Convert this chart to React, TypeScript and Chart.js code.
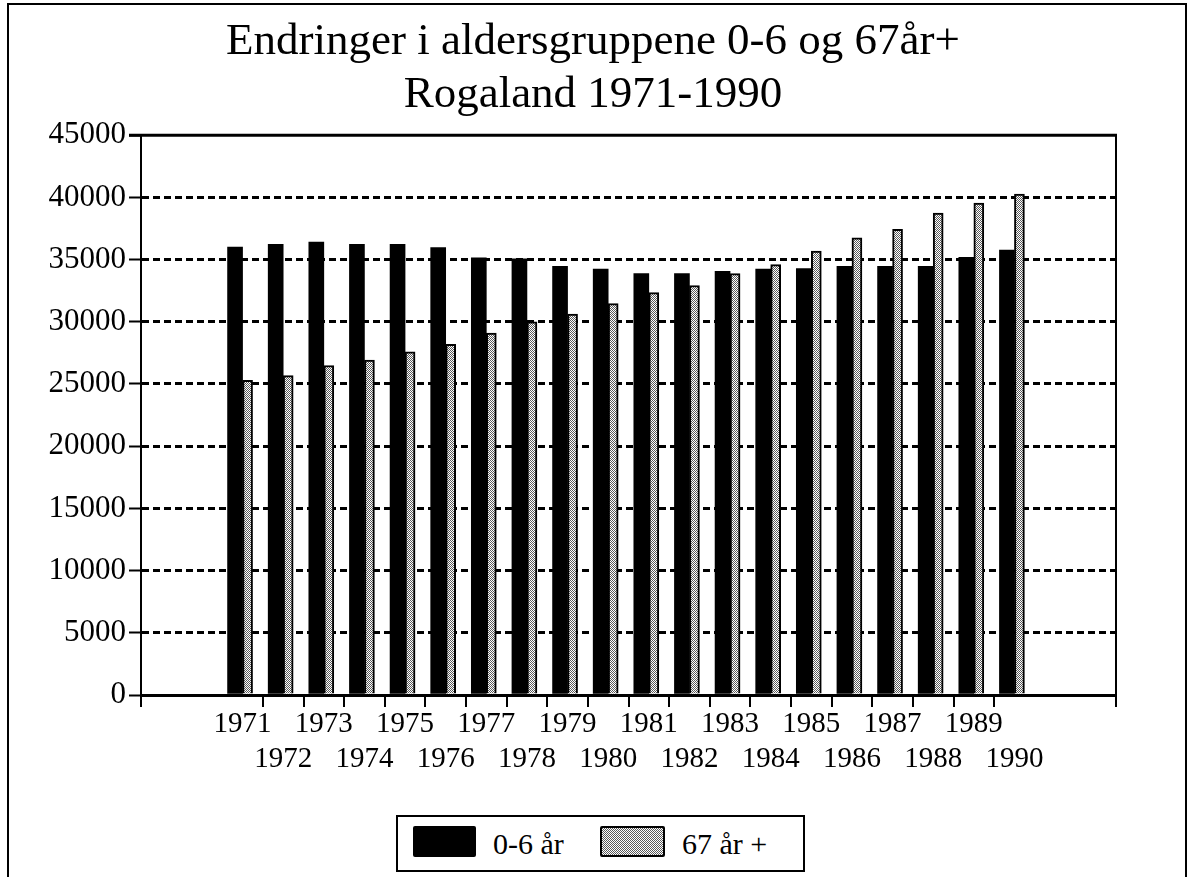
import React, { useEffect, useMemo, useRef } from 'react';
import { Chart, registerables } from 'chart.js';

Chart.register(...registerables);

// ---- Data ----
const titleLines = ['Endringer i aldersgruppene 0-6 og 67år+', 'Rogaland 1971-1990'];
const years = [
  '1971', '1972', '1973', '1974', '1975', '1976', '1977', '1978', '1979', '1980',
  '1981', '1982', '1983', '1984', '1985', '1986', '1987', '1988', '1989', '1990',
];
const age0to6 = [
  36010, 36230, 36400, 36230, 36230, 35960, 35140, 35060, 34450, 34240,
  33870, 33870, 34050, 34240, 34270, 34460, 34460, 34460, 35190, 35760,
];
const age67plus = [
  25300, 25670, 26490, 26930, 27590, 28190, 29100, 30000, 30630, 31460,
  32350, 32920, 33870, 34600, 35680, 36760, 37430, 38730, 39540, 40270,
];
const seriesNames = ['0-6 år', '67 år +'];
const yMin = 0;
const yMax = 45000;
const yStep = 5000;
const emptySlots = 2; // empty category slots on each side of the bars

const FONT = '"Liberation Serif", "Times New Roman", Times, serif';

function makeStippleCanvas(): HTMLCanvasElement {
  const c = document.createElement('canvas');
  c.width = 2;
  c.height = 2;
  const g = c.getContext('2d')!;
  g.fillStyle = '#ffffff';
  g.fillRect(0, 0, 2, 2);
  g.fillStyle = '#5a5a5a';
  g.fillRect(0, 0, 1, 1);
  g.fillRect(1, 1, 1, 1);
  return c;
}

const framePlugin = {
  id: 'frameLines',
  afterLayout(chart: any) {
    // centre the title on the whole page, not only on the padded area
    const t = chart.titleBlock;
    if (t) {
      t.left = 0;
      t.right = 1186;
      t.width = 1186;
    }
  },
  afterDatasetsDraw(chart: any) {
    const { ctx, chartArea: a } = chart;
    ctx.save();
    ctx.strokeStyle = '#000';
    ctx.lineWidth = 3;
    ctx.beginPath();
    ctx.moveTo(a.left - 12, a.top);
    ctx.lineTo(a.right + 1, a.top);
    ctx.stroke();
    ctx.lineWidth = 2;
    ctx.beginPath();
    ctx.moveTo(a.right, a.top);
    ctx.lineTo(a.right, a.bottom);
    ctx.stroke();
    ctx.restore();
  },
};

export default function App() {
  const canvasRef = useRef<HTMLCanvasElement>(null);
  const stippleUrl = useMemo(() => makeStippleCanvas().toDataURL(), []);

  useEffect(() => {
    const canvas = canvasRef.current!;
    const ctx = canvas.getContext('2d')!;
    const pattern = ctx.createPattern(makeStippleCanvas(), 'repeat')!;

    const pad = Array(emptySlots).fill(null);
    const padLabels = Array(emptySlots).fill('');
    const labels: any[] = [
      ...padLabels,
      ...years.map((y, i) => (i % 2 === 0 ? [y, ''] : ['', y])),
      ...padLabels,
    ];
    const totalSlots = labels.length;

    const chart = new Chart(canvas, {
      type: 'bar',
      data: {
        labels,
        datasets: [
          {
            label: seriesNames[0],
            data: [...pad, ...age0to6, ...pad],
            backgroundColor: '#000',
            borderWidth: 0,
            barThickness: 15,
          },
          {
            label: seriesNames[1],
            data: [...pad, ...age67plus, ...pad],
            backgroundColor: pattern as any,
            borderColor: '#000',
            borderWidth: 2,
            barThickness: 10,
          },
        ],
      },
      options: {
        responsive: false,
        animation: false,
        devicePixelRatio: 1,
        layout: { padding: { left: 0, right: 72, top: 0, bottom: 82 } },
        plugins: {
          legend: { display: false },
          tooltip: { enabled: false },
          title: {
            display: true,
            text: titleLines,
            color: '#000',
            font: { family: FONT, size: 45, weight: 'normal', lineHeight: 1.18 },
            padding: { top: 16, bottom: 13 },
          },
        },
        scales: {
          x: {
            type: 'category',
            offset: true,
            afterFit: (s: any) => {
              s.height = 100;
            },
            grid: {
              display: true,
              offset: true,
              drawOnChartArea: false,
              drawTicks: true,
              tickLength: 12,
              lineWidth: 2,
              tickColor: (c: any) => {
                const i = c.index;
                if (i === undefined) return '#000';
                if (i === 0 || i === totalSlots) return '#000';
                if (i > emptySlots && i < totalSlots - emptySlots) return '#000';
                return 'transparent';
              },
              tickBorderDash: [],
            },
            border: { display: true, color: '#000', width: 3 },
            ticks: {
              autoSkip: false,
              maxRotation: 0,
              minRotation: 0,
              padding: 0,
              color: '#000',
              font: { family: FONT, size: 29, lineHeight: 1.2 },
            },
          },
          y: {
            min: yMin,
            max: yMax,
            afterFit: (s: any) => {
              s.width = 141;
            },
            grid: {
              display: true,
              drawOnChartArea: true,
              drawTicks: true,
              tickLength: 12,
              lineWidth: 3,
              color: (c: any) =>
                c.tick && (c.tick.value === yMin || c.tick.value === yMax) ? 'transparent' : '#000',
              tickColor: '#000',
              tickWidth: 2,
              tickBorderDash: [],
            },
            border: { display: true, color: '#000', width: 2, dash: [7, 4] },
            ticks: {
              stepSize: yStep,
              padding: 3,
              color: '#000',
              font: { family: FONT, size: 31 },
              callback: (v: any) => String(v),
            },
          },
        },
      },
      plugins: [framePlugin],
    });

    return () => chart.destroy();
  }, []);

  const legendText: React.CSSProperties = {
    position: 'absolute',
    top: 0,
    height: 53,
    lineHeight: '53px',
    fontFamily: FONT,
    fontSize: 30,
    color: '#000',
    whiteSpace: 'nowrap',
  };

  return (
    <div
      style={{
        position: 'absolute',
        left: 0,
        top: 0,
        width: 1188,
        height: 877,
        overflow: 'hidden',
        background: '#fff',
      }}
    >
      <canvas ref={canvasRef} width={1188} height={877} style={{ position: 'absolute', left: 0, top: 0 }} />
      <div
        style={{
          position: 'absolute',
          left: 7,
          top: 3,
          width: 1180,
          height: 900,
          borderTop: '2px solid #000',
          borderLeft: '2px solid #000',
          borderRight: '2px solid #000',
          boxSizing: 'border-box',
          pointerEvents: 'none',
        }}
      />
      <div
        style={{
          position: 'absolute',
          left: 396,
          top: 815,
          width: 409,
          height: 57,
          border: '2px solid #000',
          boxSizing: 'border-box',
          background: '#fff',
        }}
      >
        <div
          style={{
            position: 'absolute',
            left: 15,
            top: 9,
            width: 63,
            height: 31,
            background: '#000',
            borderRadius: 2,
          }}
        />
        <div style={{ ...legendText, left: 95 }}>{seriesNames[0]}</div>
        <div
          style={{
            position: 'absolute',
            left: 202,
            top: 9,
            width: 65,
            height: 31,
            border: '2px solid #000',
            boxSizing: 'border-box',
            backgroundImage: `url(${stippleUrl})`,
            backgroundRepeat: 'repeat',
            imageRendering: 'pixelated',
            borderRadius: 2,
          }}
        />
        <div style={{ ...legendText, left: 284 }}>{seriesNames[1]}</div>
      </div>
    </div>
  );
}
